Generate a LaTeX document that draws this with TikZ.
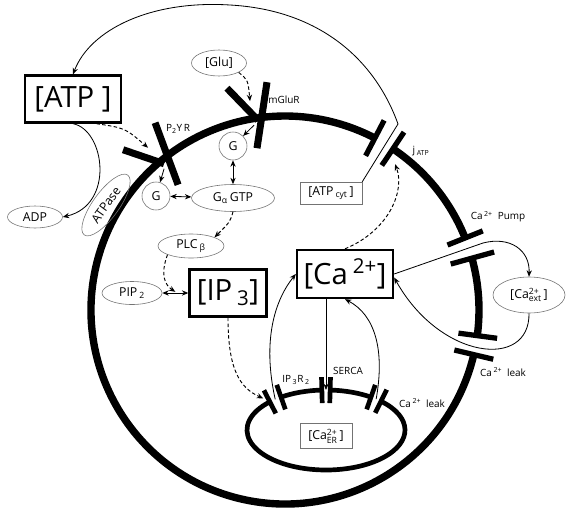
\documentclass[tikz,border=0pt]{standalone}
\usepackage{fontspec}
\setmainfont{Open Sans}
\usepackage{amsmath}
\usetikzlibrary{shapes.geometric,arrows.meta,calc}

\begin{document}
\begin{tikzpicture}[x=0.3mm,y=-0.3mm,>={Stealth[length=5.5pt,width=4.5pt]}]
\tikzstyle{bigbox}=[draw,line width=2pt,inner sep=0pt,font=\fontsize{25}{28}\selectfont]
\tikzstyle{thinbox}=[draw=black!55,line width=0.5pt,inner sep=0pt,font=\fontsize{10.5}{12}\selectfont]
\tikzstyle{ell}=[ellipse,draw=black!55,line width=0.5pt,inner sep=0pt,font=\fontsize{10.5}{12}\selectfont]
\tikzstyle{lbl}=[inner sep=0pt,font=\fontsize{8.5}{10}\selectfont]
\tikzstyle{conn}=[line width=0.7pt]
\tikzstyle{dconn}=[line width=0.8pt,dash pattern=on 3pt off 2pt]
\tikzstyle{membrane}=[line width=6.3pt]
\tikzstyle{ermem}=[line width=4pt]
\tikzstyle{capbar}=[line width=4.5pt]
\tikzstyle{recbar}=[line width=6pt]
\useasboundingbox (0,0) rectangle (570,514);

% cell and ER centres
\coordinate (cell) at (285,310);
\coordinate (er) at (326,430);

% plasma membrane with its channels
\draw[membrane] ($(cell)+(13.3:194)$) arc[start angle=13.3,end angle=297.6,radius=194];
\draw[membrane] ($(cell)+(-56.2:194)$) arc[start angle=-56.2,end angle=-21.8,radius=194];
\draw[membrane] ($(cell)+(-15.5:194)$) arc[start angle=-15.5,end angle=7.6,radius=194];
\foreach \a/\ri/\ro in {297.6/174/214,-56.2/174/214,-21.8/175/213,-15.5/172/217,7.6/175/214,13.3/174/214}
  \draw[capbar] ($(cell)+(\a:\ri)$) -- ($(cell)+(\a:\ro)$);

% ER membrane with its channels
\draw[ermem] ($(er)+(-45.9:79 and 40)$) arc[start angle=-45.9,end angle=224.7,x radius=79,y radius=40];
\draw[ermem] ($(er)+(-124.7:79 and 40)$) arc[start angle=-124.7,end angle=-93,x radius=79,y radius=40];
\draw[ermem] ($(er)+(-87:79 and 40)$) arc[start angle=-87,end angle=-55.3,x radius=79,y radius=40];
\foreach \t in {-135.3,-124.7,-93,-87,-55.3,-45.9}{
  \pgfmathsetmacro\nang{atan2(79*sin(\t),40*cos(\t))}
  \draw[capbar,line width=4pt] ($(er)+(\t:79 and 40)+(\nang:13)$) -- ($(er)+(\t:79 and 40)+(\nang+180:13)$);
}

\coordinate (jatp) at ($(cell)+(-59.3:194)$);
\coordinate (ip3rgap) at ($(er)+(-130:79 and 40)$);
\coordinate (sercagap) at ($(er)+(-90:79 and 40)$);
\coordinate (erleakgap) at ($(er)+(-50.6:79 and 40)$);

% receptors
\coordinate (p2yr) at ($(cell)+(-129.7:194)$);
\coordinate (mglur) at ($(cell)+(-98.6:194)$);
\draw[recbar] ($(p2yr)+(-6,-38)$) -- ($(p2yr)+(17,24)$);
\draw[recbar] ($(p2yr)+(-38,-11)$) -- ($(p2yr)+(3,3)$);
\draw[recbar] ($(mglur)+(11,-36)$) -- ($(mglur)+(1,30)$);
\draw[recbar] ($(mglur)+(-29,-30)$) -- ($(mglur)+(2,2)$);

% species
\node[bigbox,minimum width=28.8mm,minimum height=14.1mm] (atp) at (73,99) {[ATP~]};
\node[bigbox,minimum width=28.8mm,minimum height=14.4mm] (ca) at (345,274) {[Ca\,\textsuperscript{2+}]};
\node[bigbox,minimum width=23.1mm,minimum height=14.1mm] (ip3) at (228,293) {[IP\,\textsubscript{3}]};
\node[thinbox,minimum width=18.6mm,minimum height=6.6mm] (atpcyt) at (331,193) {[ATP\,\textsubscript{cyt}\,]};
\node[thinbox,minimum width=15.6mm,minimum height=7.5mm] (caer) at (326,436) {[Ca$^{\text{2+}}_{\text{ER}}$\,]};
\node[ell,minimum width=16.5mm,minimum height=7.8mm] (glu) at (219,63) {[Glu]};
\node[ell,circle,minimum size=8.4mm] (g1) at (233,146) {G};
\node[ell,circle,minimum size=8.4mm] (g2) at (156,196) {G};
\node[ell,minimum width=24.9mm,minimum height=8.1mm] (gagtp) at (233,198) {G\textsubscript{α}\,GTP};
\node[ell,minimum width=16.5mm,minimum height=6.6mm] (adp) at (35,217) {ADP};
\node[ell,rotate=54,minimum width=22.2mm,minimum height=7.8mm] (atpase) at (106,205) {ATPase};
\node[ell,minimum width=19.8mm,minimum height=7.2mm] (plc) at (191,246) {PLC\,\textsubscript{β}};
\node[ell,minimum width=18mm,minimum height=6.9mm] (pip2) at (132,293) {PIP\,\textsubscript{2}};
\node[ell,minimum width=21.6mm,minimum height=10.8mm] (caext) at (529,295) {[Ca$^{\text{2+}}_{\text{ext}}$\,]};

% labels
\node[lbl] (p2yrlbl) at (178,129) {P\textsubscript{2}Y\,R};
\node[lbl] (mglurlbl) at (284,100) {mGluR};
\node[lbl] (jatplbl) at (421,151) {j\,\textsubscript{ATP}};
\node[lbl] (pumplbl) at (498,217) {Ca\,\textsuperscript{2+}\enspace Pump};
\node[lbl] (leaklbl) at (503,372) {Ca\,\textsuperscript{2+}\enspace leak};
\node[lbl] (ip3rlbl) at (296,380) {IP\,\textsubscript{3}R\,\textsubscript{2}};
\node[lbl] (sercalbl) at (348,371) {SERCA};
\node[lbl] (erleaklbl) at (422,403) {Ca\,\textsuperscript{2+}\enspace leak};

% ATP pathway
\coordinate (kink) at (398,124);
\coordinate (looptop) at (230,5);
\draw[conn,->] (atpcyt.north east) -- (kink) .. controls (375,60) and (320,10) .. (looptop) .. controls (150,0) and (90,30) .. (atp.north);
\draw[conn,->] (atp.south) .. controls (105,130) and (115,205) .. (adp.east);
\draw[dconn,->] ([xshift=7mm]atp.south) .. controls (125,128) .. ($(p2yr)+(-13,-13)$);
\draw[dconn,->] (glu.south east) .. controls (248,80) .. ($(mglur)+(-6,-17)$);

% G protein cascade
\draw[conn,->] ($(mglur)+(-2,7)$) -- (g1);
\draw[conn,->] ($(p2yr)+(3,8)$) -- (g2);
\draw[conn,<->] (g1) -- (gagtp);
\draw[conn,<->] (g2) -- (gagtp);
\draw[dconn,->] (gagtp.south) .. controls (230,222) .. (plc.north east);
\coordinate (pipmid) at ($(pip2.east)!0.5!(ip3.west)$);
\draw[conn,<->] (pip2) -- (ip3);
\draw[dconn,->] (plc.south west) .. controls (160,275) and (165,285) .. ([yshift=1pt]pipmid);
\draw[dconn,->] (ip3.south) .. controls (228,370) and (240,388) .. ($(ip3rgap)+(-12,-1)$);

% calcium fluxes
\draw[dconn,->] (ca.north) .. controls (390,230) and (405,190) .. ($(jatp)+(11,21)$);
\coordinate (pumpout) at (483,243);
\draw[conn,->] (ca.east) -- (pumpout) .. controls (510,236) and (530,250) .. (caext.north);
\draw[conn,->] (caext.south) .. controls (530,370) and (440,360) .. ([yshift=-3pt]ca.east);
\draw[conn,->] (ca.south -| sercagap) -- (sercagap);
\draw[conn,->] (ip3rgap) .. controls (262,340) and (275,300) .. (ca.west);
\draw[conn,->] (erleakgap) .. controls (385,350) and (375,315) .. (ca.south);
\end{tikzpicture}
\end{document}
